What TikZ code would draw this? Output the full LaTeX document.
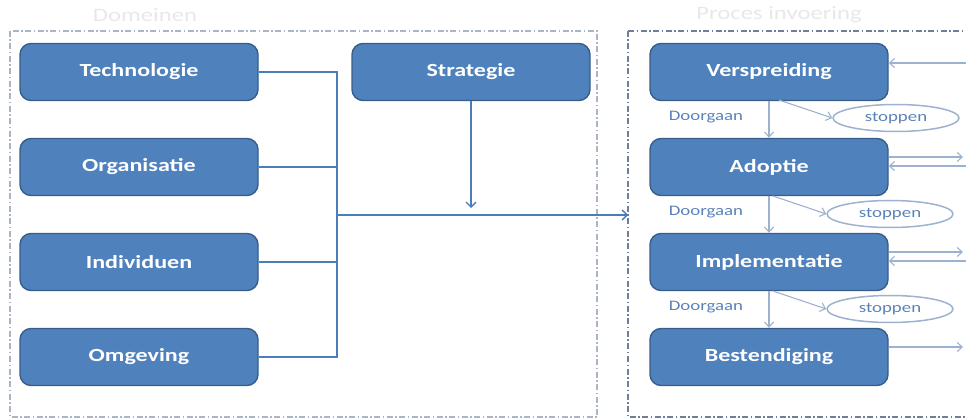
\documentclass[tikz,border=0pt]{standalone}
\usepackage{fontspec}
\setmainfont{Carlito}[FakeStretch=1.3]
\usetikzlibrary{arrows.meta,shapes.geometric}
\definecolor{boxfill}{HTML}{4F81BD}
\definecolor{boxline}{HTML}{385D8A}
\definecolor{conn}{HTML}{4A7EBB}
\definecolor{lite}{HTML}{9DB2D0}
\definecolor{lbl}{HTML}{5A82B8}
\definecolor{frameL}{HTML}{A9B5C6}
\definecolor{frameR}{HTML}{6F7F96}
\definecolor{ttl}{HTML}{E8E8E8}
\begin{document}
\begin{tikzpicture}[x=1pt,y=-1pt,
  bluebox/.style={draw=boxline,line width=1.4pt,fill=boxfill,rounded corners=11pt,
    minimum width=238pt,minimum height=57pt,inner sep=0pt,text=white,
    font=\fontsize{18.5}{21}\selectfont\bfseries},
  connline/.style={draw=conn,line width=1.3pt},
  connarrow/.style={connline,-{Straight Barb[length=5pt,width=10pt]}},
  litearrow/.style={draw=lite,line width=1.1pt,-{Straight Barb[length=5pt,width=9pt]}},
  stopnode/.style={ellipse,draw=lite,line width=1.5pt,minimum width=126pt,minimum height=27pt,
    inner sep=0pt,text=lbl,font=\fontsize{14.5}{16}\selectfont},
  golabel/.style={text=lbl,font=\fontsize{14.5}{16}\selectfont,inner sep=0pt},
  titletext/.style={text=ttl,font=\fontsize{19}{22}\selectfont,inner sep=0pt},
  frameline/.style={line width=1.4pt,dash pattern=on 6pt off 2.5pt on 1.5pt off 2.5pt}
]
\useasboundingbox (0,0) rectangle (966,419);

% titles
\node[titletext] (t1) at (145,15) {Domeinen};
\node[titletext] (t2) at (779,15) {Proces invoering};

% frames
\draw[frameline,draw=frameL] (10,31) rectangle (597,417);
\draw[frameline,draw=frameR] (628,31) -- (970,31);
\draw[frameline,draw=frameR] (628,31) -- (628,417) -- (970,417);

% left boxes
\node[bluebox] (tech) at (139,72) {Technologie};
\node[bluebox] (org) at (139,167) {Organisatie};
\node[bluebox] (ind) at (139,262) {Individuen};
\node[bluebox] (omg) at (139,357) {Omgeving};
\node[bluebox] (strat) at (471,72) {Strategie};

% right boxes
\node[bluebox] (vers) at (769,72) {Verspreiding};
\node[bluebox] (adop) at (769,167) {Adoptie};
\node[bluebox] (impl) at (769,262) {Implementatie};
\node[bluebox] (best) at (769,357) {Bestendiging};

% stoppen ellipses
\node[stopnode] (s1) at (896,118) {stoppen};
\node[stopnode] (s2) at (890,214) {stoppen};
\node[stopnode] (s3) at (890,309) {stoppen};

% Doorgaan labels
\node[golabel] (d1) at (706,117) {Doorgaan};
\node[golabel] (d2) at (706,212) {Doorgaan};
\node[golabel] (d3) at (706,307) {Doorgaan};

% left connectors
\coordinate (busTop) at (337,72);
\coordinate (busBot) at (337,357);
\coordinate (hub) at (337,215);
\coordinate (pin) at (628,215);
\coordinate (sEnd) at (471,208);
\draw[connline] (tech.east) -- (busTop) -- (busBot) -- (omg.east);
\draw[connline] (org.east) -- (org.east -| busTop);
\draw[connline] (ind.east) -- (ind.east -| busTop);
\draw[connarrow] (hub) -- (pin);
\draw[connarrow] (strat.south) -- (sEnd);

% vertical Doorgaan arrows
\draw[litearrow] (vers.south) -- (adop.north);
\draw[litearrow] (adop.south) -- (impl.north);
\draw[litearrow] (impl.south) -- (best.north);

% diagonal arrows to stoppen
\coordinate (v1) at (779,100);
\coordinate (v2) at (773,196);
\coordinate (v3) at (773,291);
\draw[litearrow] (v1) -- (s1.west);
\draw[litearrow] (v2) -- (s2.west);
\draw[litearrow] (v3) -- (s3.west);

% right side arrows
\coordinate (rin1) at (968,63);
\coordinate (rout2) at (963,157);
\coordinate (rin2) at (968,166);
\coordinate (rout3) at (963,252);
\coordinate (rin3) at (968,261);
\coordinate (rout4) at (963,347);
\draw[litearrow] (rin1) -- (rin1 -| vers.east);
\draw[litearrow] (rout2 -| adop.east) -- (rout2);
\draw[litearrow] (rin2) -- (rin2 -| adop.east);
\draw[litearrow] (rout3 -| impl.east) -- (rout3);
\draw[litearrow] (rin3) -- (rin3 -| impl.east);
\draw[litearrow] (rout4 -| best.east) -- (rout4);
\end{tikzpicture}
\end{document}
